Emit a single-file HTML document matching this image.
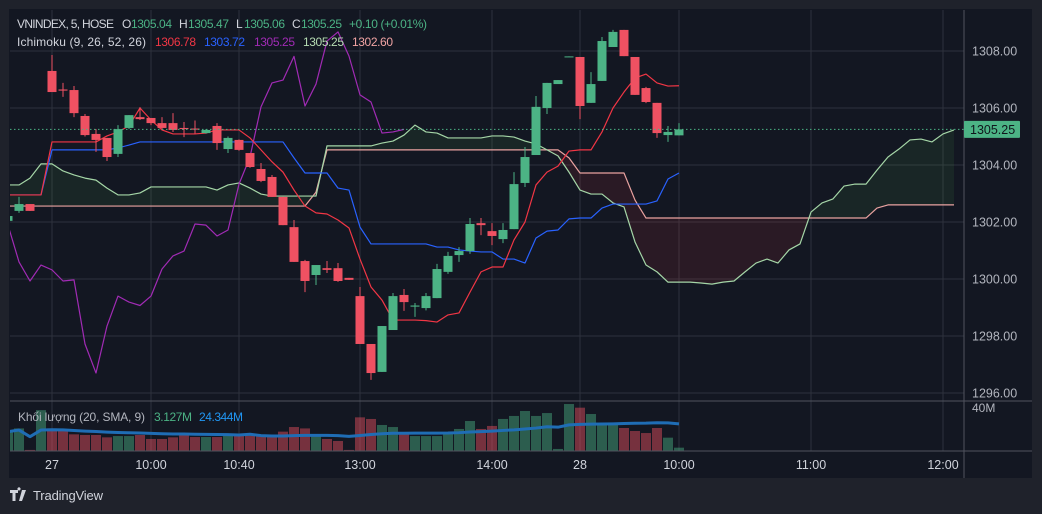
<!DOCTYPE html>
<html><head><meta charset="utf-8"><style>
html,body{margin:0;padding:0;background:#1f222b;}
svg{display:block;font-family:"Liberation Sans",sans-serif;}
</style></head><body>
<svg id="chart" width="1042" height="514" viewBox="0 0 1042 514">
<rect x="0" y="0" width="1042" height="514" fill="#1f222b"/>
<rect x="9" y="9" width="1023" height="469" fill="#131722"/>
<defs><clipPath id="plotClip"><rect x="10" y="10" width="953" height="390"/></clipPath>
<clipPath id="volClip"><rect x="10" y="402" width="953" height="49"/></clipPath></defs>
<g id="grid"></g>
<g id="cloud" clip-path="url(#plotClip)"></g>
<g id="ichiLines" clip-path="url(#plotClip)"></g>
<g id="candles" clip-path="url(#plotClip)"></g>
<g id="vol" clip-path="url(#volClip)"></g>
<g id="axes"></g>
<g font-size="12">
<text x="17" y="28" fill="#d1d4dc" textLength="97">VNINDEX, 5, HOSE</text>
<text x="122" y="28" fill="#d1d4dc">O</text>
<text x="131" y="28" fill="#4cb385" textLength="41">1305.04</text>
<text x="179" y="28" fill="#d1d4dc">H</text>
<text x="188" y="28" fill="#4cb385" textLength="41">1305.47</text>
<text x="236" y="28" fill="#d1d4dc">L</text>
<text x="244" y="28" fill="#4cb385" textLength="41">1305.06</text>
<text x="292" y="28" fill="#d1d4dc">C</text>
<text x="301" y="28" fill="#4cb385" textLength="41">1305.25</text>
<text x="349" y="28" fill="#4cb385" textLength="78">+0.10 (+0.01%)</text>
<text x="17" y="46" fill="#d1d4dc" textLength="129">Ichimoku (9, 26, 52, 26)</text>
<text x="155" y="46" fill="#f23645" textLength="41">1306.78</text>
<text x="204" y="46" fill="#2962ff" textLength="41">1303.72</text>
<text x="254" y="46" fill="#a12bb5" textLength="41">1305.25</text>
<text x="303" y="46" fill="#b5dbb2" textLength="41">1305.25</text>
<text x="352" y="46" fill="#f0a3a3" textLength="41">1302.60</text>
<text x="18" y="421" fill="#b2b5be" textLength="127">Khối lượng (20, SMA, 9)</text>
<text x="154" y="421" fill="#4cb385" textLength="38">3.127M</text>
<text x="199" y="421" fill="#2196f3" textLength="44">24.344M</text>
</g>
<g>
<path d="M10 490h8v3h-2.5v8h-3v-8H10z M19 490.5a1.6 1.6 0 1 1 0.01 0z M22 490h4l-4 11h-3z" fill="#d1d4dc"/>
<text x="33" y="500" fill="#d1d4dc" font-size="13" textLength="70">TradingView</text>
</g>
</svg>
<script>
const candleIdx=[-4,-3,-2,0,1,2,3,4,5,6,7,8,9,10,11,12,13,14,15,16,17,18,19,20,21,22,23,24,25,26,27,28,29,30,31,32,33,34,35,36,37,38,39,40,41,42,43,44,45,46,47,48,49,50,51,52,53,54,55,56,57];
const opens=[1302.04,1302.39,1302.63,1307.30,1306.65,1306.63,1305.72,1305.09,1304.95,1304.39,1305.30,1305.68,1305.65,1305.47,1305.47,1305.30,1305.28,1305.12,1305.37,1304.56,1304.88,1304.42,1303.86,1303.58,1302.88,1301.82,1300.63,1300.14,1300.38,1300.38,1300.04,1299.40,1297.72,1296.74,1298.21,1299.44,1299.03,1298.98,1299.33,1300.25,1300.84,1300.98,1301.96,1301.68,1301.40,1301.75,1303.37,1304.35,1306.00,1306.84,1307.79,1307.79,1306.18,1306.95,1308.14,1308.74,1307.79,1306.70,1306.18,1305.05,1305.04];
const highs=[1302.21,1302.88,1302.63,1307.86,1306.88,1306.77,1305.79,1305.26,1304.95,1305.40,1305.75,1306.03,1305.65,1305.68,1305.82,1305.51,1305.56,1305.26,1305.47,1305.00,1304.90,1304.42,1304.07,1303.65,1302.88,1302.07,1300.67,1300.49,1300.63,1300.56,1300.04,1299.72,1297.72,1298.35,1299.51,1299.65,1299.16,1299.51,1300.53,1300.95,1301.12,1302.14,1302.14,1301.96,1301.96,1303.75,1304.63,1306.42,1306.88,1306.98,1307.81,1307.79,1307.26,1308.49,1308.74,1308.74,1307.79,1306.74,1306.18,1305.37,1305.47];
const lows=[1302.04,1302.32,1302.39,1306.56,1306.39,1305.68,1305.00,1304.46,1304.14,1304.28,1305.26,1305.58,1305.40,1305.26,1305.16,1304.98,1305.10,1305.10,1304.53,1304.42,1304.50,1303.90,1303.40,1302.88,1301.89,1300.60,1299.54,1299.79,1300.21,1299.90,1299.97,1297.72,1296.46,1296.74,1298.21,1298.88,1298.67,1298.90,1299.33,1300.18,1300.60,1300.88,1301.54,1301.19,1301.26,1301.75,1303.23,1304.35,1305.79,1306.84,1307.79,1305.61,1306.18,1306.95,1308.14,1307.82,1306.46,1306.17,1304.95,1304.81,1305.04];
const closes=[1302.21,1302.63,1302.39,1306.56,1306.61,1305.82,1305.05,1304.88,1304.28,1305.26,1305.75,1305.61,1305.47,1305.30,1305.23,1305.26,1305.24,1305.23,1304.77,1304.95,1304.53,1303.93,1303.44,1302.88,1301.89,1300.60,1299.93,1300.49,1300.32,1299.93,1299.97,1297.72,1296.70,1298.35,1299.40,1299.19,1299.07,1299.40,1300.35,1300.81,1300.98,1301.93,1301.89,1301.51,1301.72,1303.33,1304.28,1306.04,1306.88,1306.98,1307.81,1306.07,1306.84,1308.35,1308.67,1307.82,1306.46,1306.21,1305.12,1305.16,1305.25];
const lineStart=-4;
const conversion=[1302.95,1302.95,1302.95,1302.95,1304.81,1304.81,1304.81,1304.81,1304.81,1305.02,1305.16,1305.37,1306.00,1305.58,1305.23,1305.09,1305.09,1305.09,1305.12,1305.23,1305.23,1305.23,1304.95,1304.53,1304.11,1303.75,1303.12,1302.56,1302.32,1302.28,1302.07,1301.79,1300.70,1299.72,1299.26,1298.56,1298.56,1298.56,1298.54,1298.49,1298.74,1298.81,1299.54,1300.25,1300.42,1300.42,1301.37,1302.00,1303.30,1303.75,1303.96,1304.49,1304.53,1304.53,1305.16,1306.00,1306.56,1307.05,1307.19,1306.88,1306.77,1306.78];
const base=[1302.95,1302.95,1302.95,1302.95,1304.53,1304.53,1304.53,1304.53,1304.53,1304.53,1304.60,1304.70,1304.81,1304.81,1304.81,1304.81,1304.81,1304.81,1304.81,1304.81,1304.81,1304.81,1304.81,1304.81,1304.81,1304.81,1304.25,1303.72,1303.72,1303.72,1303.19,1303.12,1301.82,1301.23,1301.23,1301.23,1301.23,1301.23,1301.23,1301.12,1301.12,1301.02,1300.98,1300.95,1300.95,1300.70,1300.70,1300.56,1301.44,1301.68,1301.72,1302.11,1302.14,1302.14,1302.49,1302.63,1302.63,1302.63,1302.63,1302.74,1303.51,1303.72];
const leadA=[1303.30,1303.30,1303.54,1304.04,1304.04,1303.79,1303.65,1303.54,1303.47,1303.19,1302.95,1302.95,1303.02,1303.23,1303.23,1303.23,1303.23,1303.23,1303.23,1303.12,1303.30,1303.37,1303.19,1302.98,1302.91,1302.91,1302.91,1302.91,1302.91,1304.67,1304.67,1304.67,1304.67,1304.67,1304.77,1304.84,1305.05,1305.40,1305.16,1305.12,1304.95,1304.95,1304.95,1304.95,1305.02,1305.02,1304.98,1304.84,1304.74,1304.53,1304.32,1303.75,1303.12,1302.98,1302.98,1302.67,1302.53,1301.30,1300.49,1300.25,1299.89,1299.89,1299.89,1299.86,1299.82,1299.89,1299.93,1300.25,1300.56,1300.70,1300.56,1301.02,1301.23,1302.35,1302.67,1302.81,1303.26,1303.33,1303.33,1303.82,1304.28,1304.56,1304.88,1304.91,1304.81,1305.09,1305.23];
const leadB=[
1302.56,1302.56,1302.56,1302.56,1302.56,1302.56,1302.56,1302.56,1302.56,1302.56,
1302.56,1302.56,1302.56,1302.56,1302.56,1302.56,1302.56,1302.56,1302.56,1302.56,
1302.56,1302.56,1302.56,1302.56,1302.56,1302.56,1302.56,1302.56,
1303.05,
1304.53,1304.53,1304.53,1304.53,1304.53,1304.53,1304.53,1304.53,1304.53,1304.53,
1304.53,1304.53,1304.53,1304.53,1304.53,1304.53,1304.53,1304.53,1304.53,1304.53,
1304.53,1304.53,
1304.25,
1303.72,1303.72,1303.72,1303.72,1303.72,
1302.77,
1302.14,1302.14,1302.14,1302.14,1302.14,1302.14,1302.14,1302.14,1302.14,1302.14,
1302.14,1302.14,1302.14,1302.14,1302.14,1302.14,1302.14,1302.14,1302.14,1302.14,
1302.14,
1302.49,
1302.60,1302.60,1302.60,1302.60,1302.60,1302.60,1302.60];
const volStart=-4;
const volumes=[18,21,1,38,21,18.6,15.5,14.9,14.9,12.7,13.9,13.9,14.9,11.2,11.2,12.7,14.9,13,13,13,14.9,14.3,14.3,14.3,13,18,22.3,21,14.9,11.2,9.3,1,31.3,29.8,24.2,22.3,15.8,13.9,13.9,13.9,15.8,20.5,27.9,20.5,23.3,29.8,32.6,37.2,32.6,35.3,1.9,43.7,40.3,34.4,26,26,21.4,18.6,16.7,21.4,12.4,3.1];
const priceTicks=[1308,1306,1304,1302,1300,1298,1296];
const timeIdx=[0,9,17,28,40,48,57,69,81];
const timeLabels=["27","10:00","10:40","13:00","14:00","28","10:00","11:00","12:00"];
const lastPrice=1305.25;
const volTick=40;

const NS="http://www.w3.org/2000/svg";
const xI=i=>52+11*i;
const yP=v=>51+(1308-v)*28.5;
const yV=m=>451-m*43/40;
function mk(tag,attrs,parent){const e=document.createElementNS(NS,tag);for(const k in attrs)e.setAttribute(k,attrs[k]);parent.appendChild(e);return e;}
const gridG=document.getElementById('grid'),cloudG=document.getElementById('cloud'),linesG=document.getElementById('ichiLines'),candleG=document.getElementById('candles'),volG=document.getElementById('vol'),axG=document.getElementById('axes');

priceTicks.forEach(v=>{const l=mk('line',{x1:10,x2:964,y1:yP(v),y2:yP(v),stroke:'#2e323d','stroke-width':1},gridG);

});
timeIdx.forEach(i=>{const l=mk('line',{x1:xI(i),x2:xI(i),y1:10,y2:451,stroke:'#2e323d','stroke-width':1},gridG);

});

// cloud
try{
const n=Math.min(leadA.length,leadB.length);
const A=leadA.slice(0,n).map((v,k)=>[xI(lineStart+k),yP(v)]),B=leadB.slice(0,n).map((v,k)=>[xI(lineStart+k),yP(v)]);
const col=s=>s>=0?'rgba(76,175,80,0.1)':'rgba(242,54,69,0.1)';
for(let k=0;k<n-1;k++){
  const d0=leadA[k]-leadB[k],d1=leadA[k+1]-leadB[k+1];
  let polys=[];
  if(d0*d1>=0){polys.push([[A[k],A[k+1],B[k+1],B[k]],(d0+d1)>=0?1:-1]);}
  else{const t=d0/(d0-d1);const cx=A[k][0]+t*(A[k+1][0]-A[k][0]);const cy=A[k][1]+t*(A[k+1][1]-A[k][1]);
   polys.push([[A[k],[cx,cy],B[k]],d0]);polys.push([[[cx,cy],A[k+1],B[k+1]],d1]);}
  polys.forEach(p=>{const e=mk('polygon',{points:p[0].map(q=>q.join(',')).join(' '),fill:col(p[1])},cloudG);
  
  });
}}catch(err){}

function drawLine(arr,start,color,nm,w){const pts=arr.map((v,k)=>xI(start+k)+','+yP(v)).join(' ');
 const e=mk('polyline',{points:pts,fill:'none',stroke:color,'stroke-width':w||1.2,'stroke-linejoin':'round'},linesG);
 
 }
drawLine(leadB,lineStart,'#e9a2a0','lead-span-b');
drawLine(leadA,lineStart,'#a5d6a7','lead-span-a');
const closeMap={};candleIdx.forEach((i,k)=>closeMap[i]=closes[k]);
const lag=[];let lagStart=null;
for(let i=-4;i<=57;i++){if(closeMap[i+25]!==undefined){if(lagStart===null)lagStart=i;lag.push(closeMap[i+25]);}}
drawLine(lag,lagStart,'#a12bb5','lagging-span');
drawLine(base,lineStart,'#2962ff','base-line');
drawLine(conversion,lineStart,'#f23645','conversion-line');

// candles
const upC='#4cb385',dnC='#ef5162';
candleIdx.forEach((i,k)=>{const o=opens[k],c=closes[k],h=highs[k],lo=lows[k];const colr=c>=o?upC:dnC;const x=xI(i);
 const g=mk('g',{},candleG);
 
 
 mk('line',{x1:x,x2:x,y1:yP(h),y2:yP(lo),stroke:colr,'stroke-width':1},g);
 const t=Math.min(yP(o),yP(c)),hh=Math.max(1,Math.abs(yP(o)-yP(c)));
 mk('rect',{x:x-4.5,y:t,width:9,height:hh,fill:colr},g);});

const pl=mk('line',{x1:10,x2:964,y1:yP(lastPrice),y2:yP(lastPrice),stroke:'#4cb385','stroke-width':1,'stroke-dasharray':'1.5 2.5'},axG);



// volumes
const dirMap={};candleIdx.forEach((i,k)=>dirMap[i]=closes[k]>=opens[k]);
volumes.forEach((m,k)=>{const i=volStart+k;const upv=dirMap[i]===undefined?true:dirMap[i];
 const r=mk('rect',{x:xI(i)-5,y:yV(m),width:10,height:451-yV(m),fill:upv?'rgba(76,179,133,0.45)':'rgba(239,81,98,0.45)'},volG);
 
 });
const ma=volumes.map((m,k)=>{const s=volumes.slice(Math.max(0,k-19),k+1);return s.reduce((a,b)=>a+b,0)/s.length;});
const mal=mk('polyline',{points:ma.map((m,k)=>xI(volStart+k)+','+yV(m)).join(' '),fill:'none',stroke:'#1f6db5','stroke-width':3,'stroke-linejoin':'round'},volG);



[[964,10,964,478],[10,401,1032,401],[10,451,1032,451]].forEach(a=>{const l=mk('line',{x1:a[0],y1:a[1],x2:a[2],y2:a[3],stroke:'#50535e','stroke-width':1},axG);

});
priceTicks.forEach(v=>{const t=mk('text',{x:972,y:yP(v)+4.5,fill:'#b2b5be','font-size':12.5},axG);t.textContent=v.toFixed(2);

});
const vt=mk('text',{x:972,y:412,fill:'#b2b5be','font-size':12},axG);vt.textContent=volTick+'M';


timeIdx.forEach((i,k)=>{const t=mk('text',{x:xI(i),y:469,fill:'#d1d4dc','font-size':12.5,'text-anchor':'middle'},axG);t.textContent=timeLabels[k];

});
const pb=mk('rect',{x:964,y:yP(lastPrice)-8.5,width:56,height:17,fill:'#4cb385',rx:1},axG);


const pt=mk('text',{x:970,y:yP(lastPrice)+4.5,fill:'#10151c','font-size':12.5},axG);pt.textContent=lastPrice.toFixed(2);


</script>
</body></html>
